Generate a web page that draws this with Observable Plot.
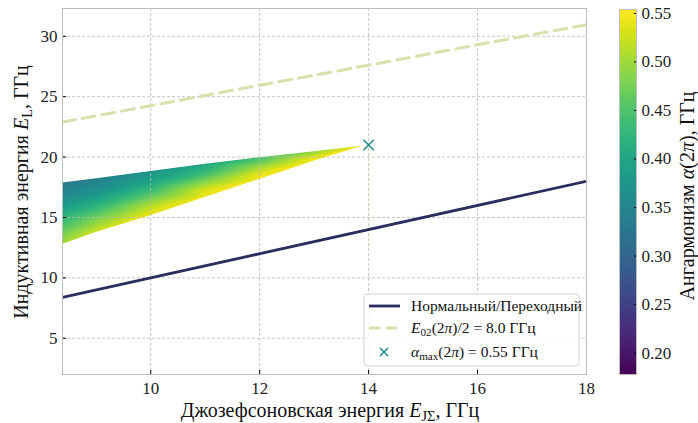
<!DOCTYPE html>
<html><head><meta charset="utf-8">
<script src="https://cdn.jsdelivr.net/npm/d3@7"></script>
<script src="https://cdn.jsdelivr.net/npm/@observablehq/plot@0.6"></script>
<style>
body{margin:0;background:#fff;}
#wrap{position:relative;width:698px;height:423px;font-family:"Liberation Serif",serif;}
#main{position:absolute;left:0;top:0;}
#cbar{position:absolute;left:600px;top:0;}
</style></head><body><div id="wrap"><div id="main"></div><div id="cbar"></div></div>
<script>
// ---- data ----
const xTicks = [10, 12, 14, 16, 18];
const yTicks = [5, 10, 15, 20, 25, 30];
const cTicks = [0.20, 0.25, 0.30, 0.35, 0.40, 0.45, 0.50, 0.55];
const xDomain = [8.38, 18];
const yDomain = [2, 32.3];
const cDomain = [0.178, 0.554];

const normalEJ = [8.38, 18];
const normalEL = [8.38, 18];

const halfEJ = [8.38, 10, 12, 14, 16, 18];
const halfEL = [22.9, 24.25, 25.95, 27.6, 29.3, 30.95];

const maxEJ = [14.0];
const maxEL = [21.0];

const regionEJ   = [8.38, 9, 10, 11, 12, 13, 14];
const regionLow  = [12.7, 13.7, 15.1, 16.6, 18.1, 19.6, 21.0];
const regionHigh = [17.9, 18.25, 18.85, 19.45, 20.0, 20.5, 21.0];
const regionFrac = [0, 0.25, 0.5, 0.75, 1];
const regionAlpha = [
  [0.33, 0.36, 0.41, 0.46, 0.51],
  [0.34, 0.37, 0.42, 0.48, 0.53],
  [0.37, 0.40, 0.45, 0.51, 0.55],
  [0.40, 0.43, 0.48, 0.53, 0.55],
  [0.44, 0.47, 0.51, 0.54, 0.55],
  [0.49, 0.51, 0.53, 0.55, 0.55],
  [0.55, 0.55, 0.55, 0.55, 0.55]
];

// ---- build tables ----
const samples = [];
regionEJ.forEach((x, i) => {
  if (regionHigh[i] === regionLow[i]) { samples.push({x, y: regionHigh[i], a: regionAlpha[i][0]}); return; }
  regionFrac.forEach((f, j) => samples.push({x, y: regionHigh[i] - f * (regionHigh[i] - regionLow[i]), a: regionAlpha[i][j]}));
});
const bounds = regionEJ.map((x, i) => ({x, lo: regionLow[i], hi: regionHigh[i]}));
const normal = normalEJ.map((x, i) => ({x, y: normalEL[i]}));
const half = halfEJ.map((x, i) => ({x, y: halfEL[i]}));
const amax = maxEJ.map((x, i) => ({x, y: maxEL[i]}));

const navy = "#2c2d5f", pale = "#dadfab", teal = "#1f8d8c", gridC = "#b8b8b8";

const main = Plot.plot({
  width: 600, height: 423,
  marginLeft: 62, marginRight: 14, marginTop: 8, marginBottom: 49,
  style: {fontFamily: "Liberation Serif", fontSize: "17px", background: "white", color: "#222"},
  x: {domain: xDomain},
  y: {domain: yDomain},
  color: {type: "linear", scheme: "viridis", domain: cDomain},
  marks: [
    Plot.raster(samples, {x: "x", y: "y", fill: "a", interpolate: "barycentric",
      x1: regionEJ[0], x2: regionEJ[regionEJ.length - 1], y1: 12.5, y2: 21.2}),
    Plot.areaY(bounds, {x: "x", y1: "hi", y2: yDomain[1], fill: "white", stroke: "white", strokeWidth: 1.2, clip: true}),
    Plot.areaY(bounds, {x: "x", y1: yDomain[0], y2: "lo", fill: "white", stroke: "white", strokeWidth: 1.2, clip: true}),
    Plot.gridX(xTicks, {stroke: gridC, strokeOpacity: 1, strokeDasharray: "3,2", strokeWidth: 0.8}),
    Plot.gridY(yTicks, {stroke: gridC, strokeOpacity: 1, strokeDasharray: "3,2", strokeWidth: 0.8}),
    Plot.line(normal, {x: "x", y: "y", stroke: navy, strokeWidth: 2.8, clip: true}),
    Plot.line(half, {x: "x", y: "y", stroke: pale, strokeWidth: 3, strokeDasharray: "13,7", clip: true}),
    Plot.dot(amax, {x: "x", y: "y", symbol: "times", r: 4.8, stroke: teal, strokeWidth: 1.6}),
    Plot.axisX(xTicks, {tickSize: 0, tickPadding: 7, label: null}),
    Plot.axisY(yTicks, {tickSize: 0, tickPadding: 5, label: null}),
    Plot.axisX(xTicks, {tickSize: 4, dy: -4, tickFormat: () => "", label: null, stroke: "#000"}),
    Plot.axisY(yTicks, {tickSize: 4, dx: 4, tickFormat: () => "", label: null, stroke: "#000"}),
    Plot.frame({stroke: "#bdbdbd"})
  ]
});
document.getElementById("main").appendChild(main);

const cb = Plot.plot({
  width: 98, height: 423,
  marginLeft: 19, marginRight: 62, marginTop: 9, marginBottom: 49,
  style: {fontFamily: "Liberation Serif", fontSize: "17px", background: "white", color: "#222"},
  x: {domain: [0, 1], axis: null},
  y: {domain: cDomain, axis: null},
  color: {type: "linear", scheme: "viridis", domain: cDomain},
  marks: [
    Plot.raster({fill: (x, y) => y, x1: 0, x2: 1, y1: cDomain[0], y2: cDomain[1]}),
    Plot.axisY(cTicks, {anchor: "right", tickSize: 0, tickPadding: 5, tickFormat: d => d.toFixed(2), label: null}),
    Plot.axisY(cTicks, {anchor: "right", tickSize: 3, dx: -3, tickFormat: () => "", label: null, stroke: "#000"}),
    Plot.frame({stroke: "#bdbdbd"})
  ]
});
document.getElementById("cbar").appendChild(cb);

// ---- rich text helper ----
function rich(svg, parts, attrs) {
  const t = d3.select(svg).append("text")
    .attr("font-family", "Liberation Serif").attr("fill", "#111").attr("text-anchor", "start");
  for (const [k, v] of Object.entries(attrs)) t.attr(k, v);
  let shifted = false;
  for (const p of parts) {
    const s = t.append("tspan").text(p.t);
    if (p.i) s.attr("font-style", "italic");
    if (p.sub && !shifted) { s.attr("dy", "0.3em").attr("font-size", "0.72em"); shifted = true; }
    else if (!p.sub && shifted) { s.attr("dy", "-0.216em"); shifted = false; }
    else if (p.sub) s.attr("font-size", "0.72em");
  }
  return t;
}

rich(main, [{t: "Джозефсоновская энергия "}, {t: "E", i: 1}, {t: "JΣ", sub: 1}, {t: ", ГГц"}],
  {x: 330, y: 417, "text-anchor": "middle", "font-size": 20});
rich(main, [{t: "Индуктивная энергия "}, {t: "E", i: 1}, {t: "L", sub: 1}, {t: ", ГГц"}],
  {transform: "translate(28,192) rotate(-90)", "text-anchor": "middle", "font-size": 20});
rich(cb, [{t: "Ангармонизм "}, {t: "α", i: 1}, {t: "(2"}, {t: "π", i: 1}, {t: "), ГГц"}],
  {transform: "translate(94,196) rotate(-90)", "text-anchor": "middle", "font-size": 20});

// ---- legend ----
const lg = d3.select(main).append("g");
lg.append("rect").attr("x", 364).attr("y", 294).attr("width", 215).attr("height", 72)
  .attr("rx", 3).attr("fill", "white").attr("fill-opacity", 0.85).attr("stroke", "#d3d3d3");
lg.append("line").attr("x1", 369).attr("x2", 400).attr("y1", 306).attr("y2", 306)
  .attr("stroke", navy).attr("stroke-width", 2.8);
lg.append("line").attr("x1", 369).attr("x2", 400).attr("y1", 328).attr("y2", 328)
  .attr("stroke", pale).attr("stroke-width", 3).attr("stroke-dasharray", "11,6");
lg.append("path").attr("d", "M380,348L388,356M388,348L380,356").attr("stroke", teal).attr("stroke-width", 1.6);
rich(main, [{t: "Нормальный/Переходный"}], {x: 411, y: 311, "font-size": 15.5});
rich(main, [{t: "E", i: 1}, {t: "02", sub: 1}, {t: "(2"}, {t: "π", i: 1}, {t: ")/2 = 8.0 ГГц"}], {x: 411, y: 333, "font-size": 15.5});
rich(main, [{t: "α", i: 1}, {t: "max", sub: 1}, {t: "(2"}, {t: "π", i: 1}, {t: ") = 0.55 ГГц"}], {x: 411, y: 357, "font-size": 15.5});
</script></body></html>
